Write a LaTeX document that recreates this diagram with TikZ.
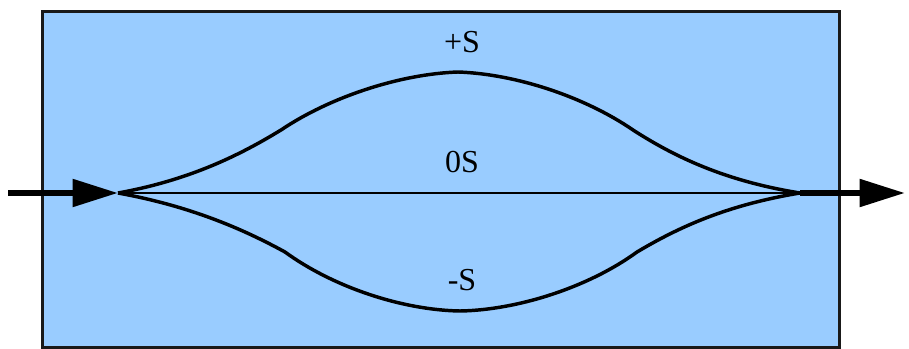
\documentclass[tikz,border=0pt]{standalone}
\usepackage{fontspec}
\setmainfont{Liberation Serif}
\usetikzlibrary{arrows.meta}
\definecolor{panelblue}{HTML}{99CCFF}
\tikzset{
  panel/.style={draw=black!90, line width=2.2pt, fill=panelblue},
  flowarrow/.style={line width=4.6pt, -{Triangle[length=34pt,width=20pt]}},
  path/.style={line width=2.6pt, line join=round},
  midpath/.style={line width=1.9pt},
  lbl/.style={font=\fontsize{24pt}{28pt}\selectfont, inner sep=0pt}
}
\begin{document}
\begin{tikzpicture}[x=0.75pt,y=-0.75pt]
\useasboundingbox (0,0) rectangle (909,349);
\node[panel, minimum width=597.75pt, minimum height=252pt, anchor=north west, inner sep=0pt] (box) at (41,10) {};
\coordinate (start) at (8,193);
\coordinate (jl) at (118,193);
\coordinate (jr) at (800,193);
\coordinate (finish) at (905,193);
\coordinate (ul) at (281,130);
\coordinate (top) at (458,72);
\coordinate (ur) at (633,130);
\coordinate (ll) at (285,252);
\coordinate (bot) at (460,311);
\coordinate (lr) at (637,252);
% upper path
\draw[path] (jl) .. controls (190,180) and (240,155) .. (ul)
  .. controls (330,97) and (400,74) .. (top)
  .. controls (516,74) and (585,97) .. (ur)
  .. controls (675,157) and (725,181) .. (jr);
% lower path
\draw[path] (jl) .. controls (190,206) and (243,229) .. (ll)
  .. controls (333,287) and (402,310) .. (bot)
  .. controls (518,310) and (589,287) .. (lr)
  .. controls (679,227) and (727,205) .. (jr);
% middle path
\draw[midpath] (jl) -- (jr);
% arrows
\draw[flowarrow] (start) -- (jl);
\draw[flowarrow] (jr) -- (finish);
\node[lbl] (plus) at (462,42) {+S};
\node[lbl] (zero) at (462,162) {0S};
\node[lbl] (minus) at (462,280) {-S};
\end{tikzpicture}
\end{document}
